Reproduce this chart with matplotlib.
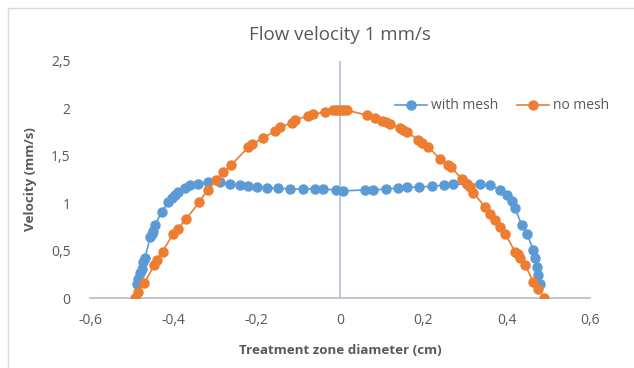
import matplotlib.pyplot as plt
from matplotlib.patches import Rectangle
from matplotlib.ticker import FuncFormatter

# with mesh
mesh_x = [-0.488, -0.484, -0.480, -0.476, -0.472, -0.468, -0.456, -0.452, -0.448, -0.444,
          -0.428, -0.412, -0.404, -0.396, -0.388, -0.372, -0.360, -0.340, -0.316, -0.288,
          -0.264, -0.240, -0.220, -0.200, -0.176, -0.150, -0.120, -0.090, -0.060, -0.040,
          -0.010, 0.008, 0.060, 0.080, 0.110, 0.140, 0.160, 0.190, 0.220, 0.250,
          0.272, 0.304, 0.336, 0.360, 0.384, 0.400, 0.412, 0.420, 0.436, 0.448,
          0.464, 0.468, 0.472, 0.476, 0.480]
mesh_y = [0.15, 0.20, 0.26, 0.31, 0.38, 0.42, 0.64, 0.68, 0.71, 0.77,
          0.91, 1.01, 1.05, 1.09, 1.12, 1.16, 1.19, 1.20, 1.22, 1.22,
          1.20, 1.19, 1.18, 1.17, 1.16, 1.16, 1.15, 1.15, 1.15, 1.15,
          1.14, 1.13, 1.14, 1.14, 1.15, 1.16, 1.17, 1.17, 1.18, 1.19,
          1.20, 1.20, 1.20, 1.19, 1.14, 1.09, 1.02, 0.95, 0.77, 0.68,
          0.51, 0.42, 0.33, 0.24, 0.15]

# no mesh
nomesh_x = [-0.492, -0.484, -0.470, -0.446, -0.440, -0.426, -0.400, -0.390, -0.370, -0.338,
            -0.318, -0.298, -0.281, -0.262, -0.220, -0.212, -0.184, -0.156, -0.144, -0.116,
            -0.108, -0.076, -0.064, -0.036, -0.016, -0.010, -0.004, 0.004, 0.010, 0.017,
            0.064, 0.084, 0.100, 0.110, 0.120, 0.144, 0.152, 0.160, 0.188, 0.196,
            0.212, 0.240, 0.260, 0.266, 0.292, 0.304, 0.312, 0.320, 0.348, 0.360,
            0.372, 0.384, 0.396, 0.420, 0.426, 0.432, 0.444, 0.464, 0.476, 0.490]
nomesh_y = [0.00, 0.066, 0.154, 0.347, 0.40, 0.49, 0.68, 0.725, 0.83, 1.01,
            1.14, 1.24, 1.33, 1.40, 1.59, 1.62, 1.69, 1.76, 1.80, 1.85,
            1.88, 1.92, 1.94, 1.96, 1.98, 1.98, 1.98, 1.98, 1.98, 1.98,
            1.93, 1.90, 1.87, 1.86, 1.84, 1.79, 1.77, 1.75, 1.67, 1.64,
            1.59, 1.47, 1.40, 1.38, 1.26, 1.20, 1.17, 1.11, 0.96, 0.89,
            0.82, 0.75, 0.68, 0.49, 0.46, 0.42, 0.35, 0.17, 0.09, 0.00]

x_ticks = [-0.6, -0.4, -0.2, 0, 0.2, 0.4, 0.6]
y_ticks = [0, 0.5, 1, 1.5, 2, 2.5]

BLUE = '#5B9BD5'
ORANGE = '#ED7D31'
TEXT = '#595959'
AXIS = '#B4BCCF'

plt.rcParams['font.family'] = ['Open Sans', 'DejaVu Sans']

fig = plt.figure(figsize=(6.34, 3.68), dpi=100)
fig.patches.append(Rectangle((8 / 634, -0.1), 1.2, 1 - 8 / 368 + 0.1,
                             transform=fig.transFigure, fill=False,
                             edgecolor='#D9D9D9', linewidth=1))
ax = fig.add_axes([90 / 634, 1 - 298 / 368, 500 / 634, 237 / 368])

ax.plot(mesh_x, mesh_y, '-o', color=BLUE, lw=1.2, ms=6.5, label='with mesh', zorder=3)
ax.plot(nomesh_x, nomesh_y, '-o', color=ORANGE, lw=1.2, ms=6.5, label='no mesh', zorder=4)

ax.set_xlim(-0.6, 0.6)
ax.set_ylim(0, 2.5)
ax.set_xticks(x_ticks)
ax.set_yticks(y_ticks)
comma = FuncFormatter(lambda v, p: ('%g' % v).replace('.', ','))
ax.xaxis.set_major_formatter(comma)
ax.yaxis.set_major_formatter(comma)
ax.tick_params(length=0, labelsize=10, labelcolor=TEXT)
ax.tick_params(axis='x', pad=11)
ax.tick_params(axis='y', pad=14)

for s in ['top', 'right', 'left']:
    ax.spines[s].set_visible(False)
ax.spines['bottom'].set_color(AXIS)
ax.spines['bottom'].set_linewidth(1.2)
ax.axvline(0, color=AXIS, lw=1.2, zorder=1)

ax.set_title('Flow velocity 1 mm/s', fontsize=13.5, color=TEXT, pad=15)
ax.set_xlabel('Treatment zone diameter (cm)', fontsize=9.6, fontweight='bold',
              color=TEXT, labelpad=11)
ax.set_ylabel('Velocity (mm/s)', fontsize=9.6, fontweight='bold', color=TEXT, labelpad=10)

ax.legend(loc='upper right', bbox_to_anchor=(1.063, 0.895), ncol=2, frameon=False,
          fontsize=10, labelcolor=TEXT, handlelength=2.3, columnspacing=1.3,
          handletextpad=0.3)

fig.savefig('out.png', dpi=100)
